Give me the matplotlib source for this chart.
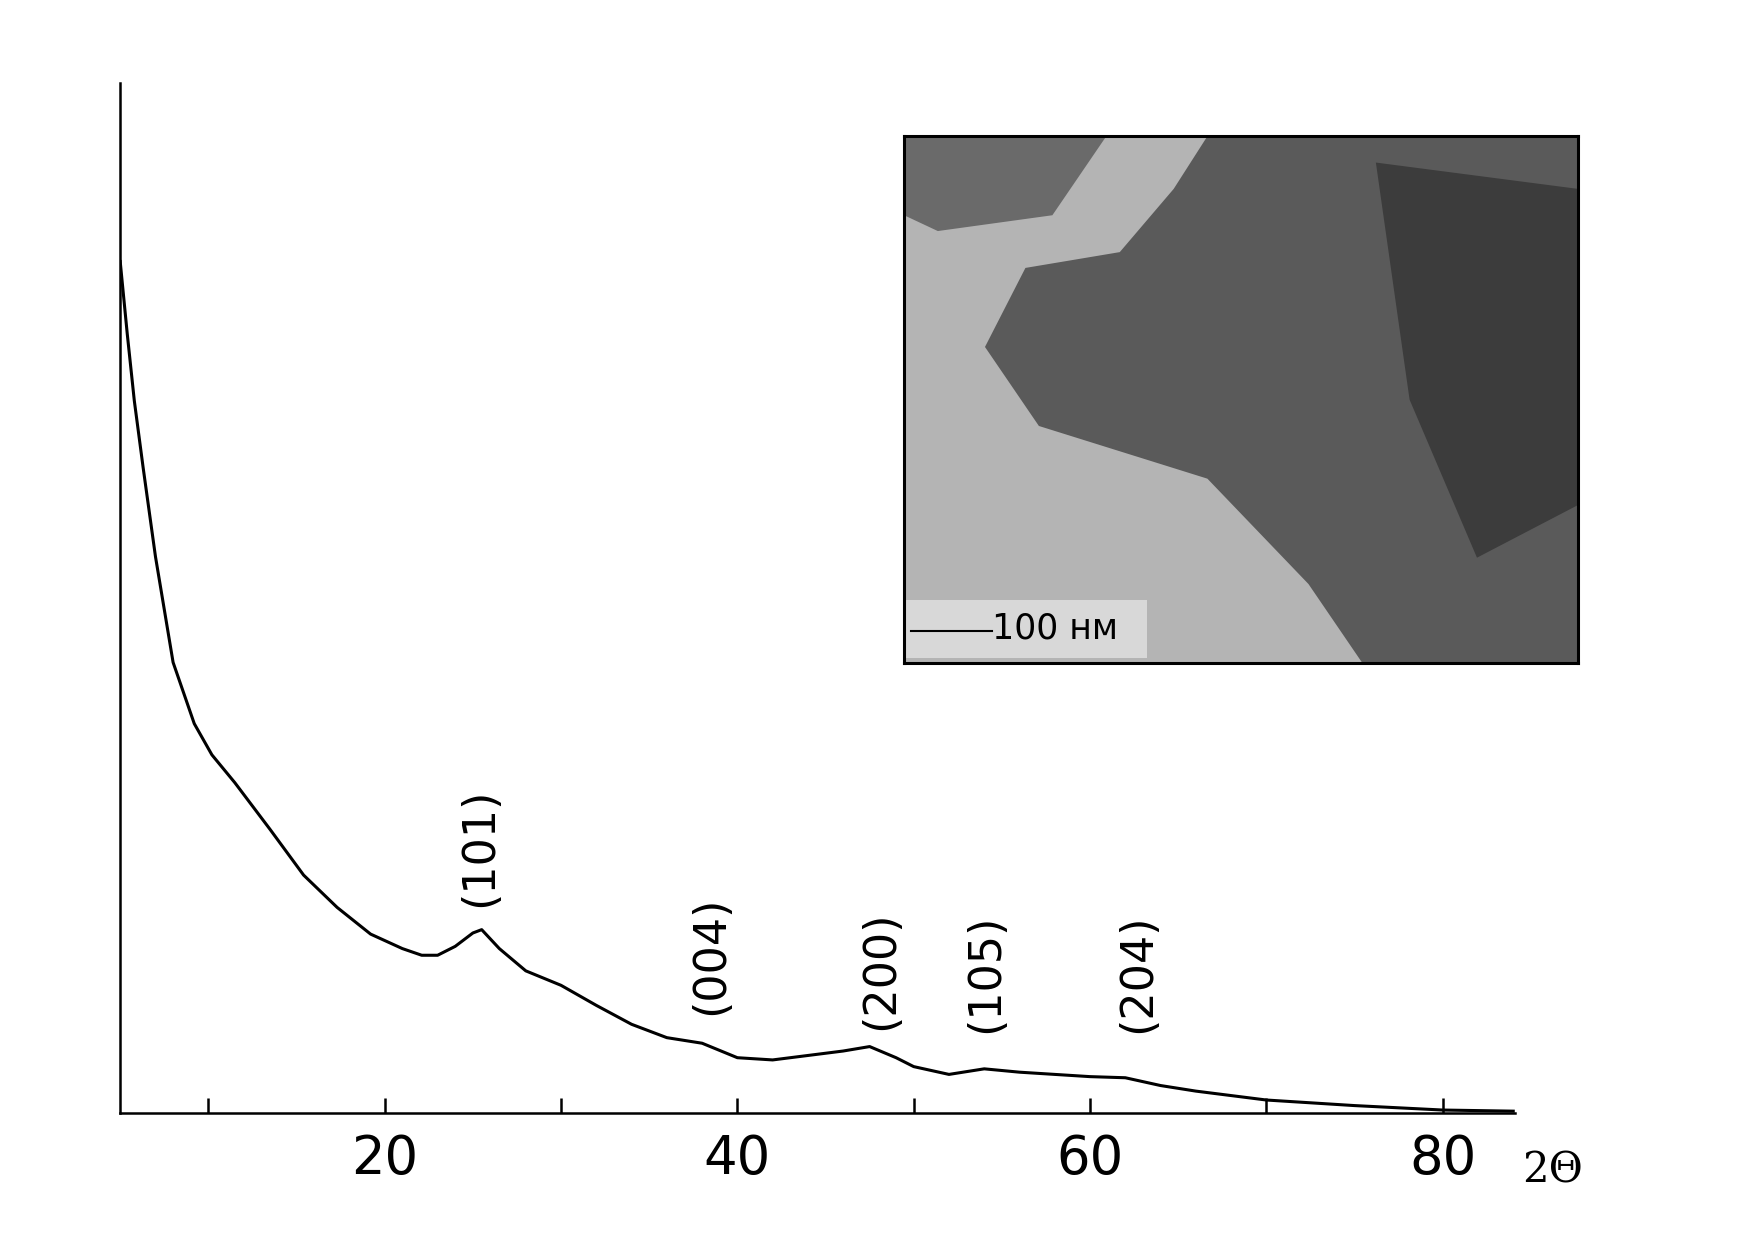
import numpy as np
import matplotlib.pyplot as plt
from matplotlib.patches import Polygon, Rectangle

# XRD pattern (2theta, intensity a.u.)
two_theta = [5, 5.4, 5.8, 6.3, 7, 8, 9.2, 10.2, 11.5, 13.5, 15.4, 17.3, 19.2, 21, 22.1,
             23, 24, 25, 25.5, 26.5, 28, 30, 32, 34, 36, 38, 40, 42, 44, 46, 47.5, 49,
             50, 52, 54, 56, 58, 60, 62, 64, 66, 70, 75, 80, 84]
intensity = [765, 700, 640, 580, 500, 405, 350, 322, 297, 255, 214, 185, 161, 148, 142,
             142, 150, 162, 165, 148, 128, 115, 97, 80, 68, 63, 50, 48, 52, 56, 60, 50,
             42, 35, 40, 37, 35, 33, 32, 25, 20, 12, 7, 3, 2]

peak_labels = ['(101)', '(004)', '(200)', '(105)', '(204)']
peak_pos = [25.4, 38.5, 48.1, 54.1, 62.7]
peak_label_y = [185, 88, 75, 72, 72]

fig = plt.figure(figsize=(17.37, 12.44), dpi=100)
ax = fig.add_axes([0.0692, 0.105, 0.803, 0.828])
ax.plot(two_theta, intensity, color='black', lw=2.2)
ax.set_xlim(5, 84.1)
ax.set_ylim(0, 925)
for s in ['top', 'right']:
    ax.spines[s].set_visible(False)
ax.spines['left'].set_linewidth(1.8)
ax.spines['bottom'].set_linewidth(1.8)
ax.set_yticks([])
ax.set_xticks([20, 40, 60, 80])
ax.set_xticks([10, 30, 50, 70], minor=True)
ax.tick_params(axis='x', which='both', direction='in', length=11, width=1.8,
               labelsize=38, pad=14)
ax.text(1.005, -0.055, '2Θ', transform=ax.transAxes, fontsize=30,
        family='DejaVu Serif', ha='left', va='center')

for lab, x, y in zip(peak_labels, peak_pos, peak_label_y):
    ax.text(x, y, lab, rotation=90, ha='center', va='bottom', fontsize=32)

# inset standing in for the TEM micrograph
ins = fig.add_axes([0.5205, 0.467, 0.388, 0.4235])
ins.set_xlim(0, 1)
ins.set_ylim(0, 1)
ins.set_xticks([])
ins.set_yticks([])
ins.set_facecolor('#b4b4b4')
ins.add_patch(Polygon([[0.45, 1], [1, 1], [1, 0], [0.68, 0], [0.6, 0.15], [0.45, 0.35],
                       [0.2, 0.45], [0.12, 0.6], [0.18, 0.75], [0.32, 0.78], [0.4, 0.9]],
                      closed=True, color='#5a5a5a', lw=0))
ins.add_patch(Polygon([[0, 1], [0.3, 1], [0.22, 0.85], [0.05, 0.82], [0, 0.85]],
                      closed=True, color='#6a6a6a', lw=0))
ins.add_patch(Polygon([[0.7, 0.95], [1, 0.9], [1, 0.3], [0.85, 0.2], [0.75, 0.5]],
                      closed=True, color='#3c3c3c', lw=0))
ins.add_patch(Rectangle((0.0, 0.01), 0.36, 0.11, color='#d8d8d8', lw=0))
ins.plot([0.01, 0.13], [0.06, 0.06], color='black', lw=1.5)
ins.text(0.13, 0.065, '100 нм', fontsize=25, va='center', ha='left')
for s in ins.spines.values():
    s.set_linewidth(2.2)

fig.savefig('out.png', dpi=100)
